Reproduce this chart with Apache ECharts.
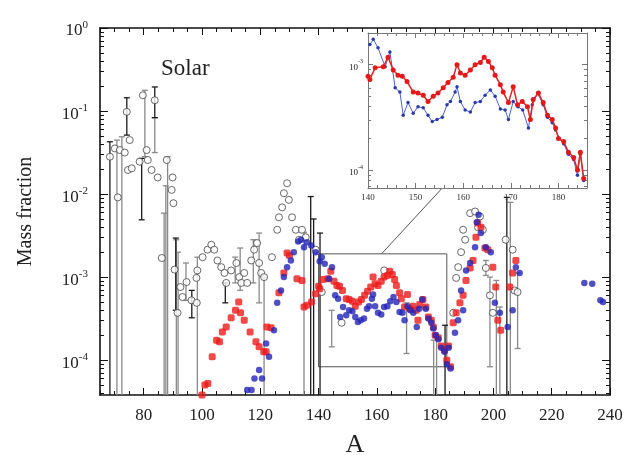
<!DOCTYPE html>
<html>
<head>
<meta charset="utf-8">
<script src="https://cdn.jsdelivr.net/npm/echarts@6/dist/echarts.min.js"></script>
<style>
  html, body { margin: 0; padding: 0; background: #fff; }
  #chart { width: 627px; height: 455px; }
</style>
</head>
<body>
<div id="chart"></div>
<script>
// 所有数值为 [A, log10(质量分数)]
const solarPts = [
  [68.4, -1.55], [70.1, -1.45], [71.1, -2.04], [71.8, -1.47], [73.5, -1.50], [74.2, -1.01],
  [74.6, -1.71], [75.2, -1.35], [75.9, -1.69], [78.6, -1.61], [79.7, -0.81], [81.0, -1.47],
  [81.4, -1.59], [82.7, -1.71], [83.8, -0.87], [84.8, -1.80], [86.2, -2.77], [87.9, -1.59],
  [89.6, -1.95], [89.9, -1.80], [90.2, -2.11], [90.6, -2.91], [91.6, -3.43], [92.6, -3.12],
  [93.3, -3.24], [94.7, -3.06], [96.4, -3.28], [98.1, -3.01], [98.4, -2.92], [98.2, -3.31],
  [100.2, -2.76], [101.9, -2.67], [103.2, -2.61], [104.2, -2.67], [105.3, -2.80], [106.6, -2.88],
  [107.7, -2.95], [108.3, -3.07], [110.0, -2.92], [111.8, -2.83], [112.8, -3.00], [113.5, -3.07],
  [114.5, -2.95], [115.5, -3.07], [116.9, -2.80], [117.9, -2.67], [118.9, -2.59], [119.6, -2.83],
  [120.3, -2.95], [121.3, -3.00], [124.0, -2.76], [125.8, -2.43], [126.4, -2.28], [127.5, -2.16],
  [128.1, -1.99], [129.2, -1.87], [129.8, -2.07], [130.9, -2.28], [132.2, -2.43], [133.3, -2.55],
  [134.3, -2.43], [135.6, -2.52], [139.0, -2.67], [141.1, -3.18], [147.9, -3.55], [162.5, -2.92],
  [186.2, -3.43], [187.2, -3.01], [187.9, -2.88], [188.9, -2.70], [189.6, -2.43], [190.3, -2.55],
  [192.0, -2.23], [193.7, -2.21], [194.7, -2.40], [195.4, -2.27], [196.4, -2.43], [197.4, -2.89],
  [198.8, -3.22], [199.8, -3.43], [204.2, -2.55], [206.6, -2.67], [207.2, -3.16], [208.3, -3.18]
]

// 误差棒 [A, 下限, 上限]；-5 表示延伸到坐标轴以下
const errBlack = [
  [68.4, -5, -1.37], [74.2, -1.29, -0.84], [79.3, -2.31, -1.57], [83.8, -1.08, -0.71],
  [91.0, -3.40, -2.53], [96.5, -3.49, -3.16], [108.0, -3.31, -3.07], [137.3, -5, -2.03],
  [138.3, -5, -2.30], [140.5, -5, -2.47], [183.4, -5, -3.58], [204.6, -5, -2.04]
]
const errGrey = [
  [70.8, -5, -1.35], [72.5, -5, -1.31], [80.4, -1.55, -0.75], [83.8, -1.50, -1.08],
  [87.0, -5, -2.23], [87.6, -5, -1.90], [88.2, -5, -1.55], [91.2, -5, -2.55], [91.8, -5, -2.70],
  [94.5, -3.28, -2.83], [98.4, -5, -2.76], [111.4, -3.07, -2.76], [113.1, -3.16, -2.65],
  [117.6, -3.07, -2.55], [119.6, -3.31, -2.47], [121.3, -5, -3.00], [135.0, -5, -2.46],
  [144.5, -3.84, -3.40], [170.2, -3.92, -3.31], [179.5, -5, -3.76], [180.5, -5, -3.76],
  [197.4, -2.98, -2.80], [198.8, -4.08, -3.00], [201.0, -5, -3.04], [202.2, -5, -3.36],
  [205.8, -5, -2.10], [208.3, -3.86, -2.95]
]

const redPts = [
  [100.0, -4.42], [101.0, -4.30], [102.0, -4.28], [103.5, -3.96], [105.0, -3.76], [106.0, -3.78],
  [107.0, -3.66], [108.3, -3.60], [110.0, -3.49], [111.5, -3.40], [112.6, -3.30], [113.2, -3.43],
  [114.5, -3.52], [116.5, -3.66], [118.5, -3.78], [119.6, -3.84], [121.2, -3.90], [122.0, -3.90],
  [122.3, -3.60], [123.7, -3.61], [126.4, -3.19], [128.1, -2.95], [129.2, -2.71], [130.0, -2.74],
  [132.6, -3.02], [134.3, -3.04], [135.0, -3.36], [136.0, -3.34], [137.6, -3.30], [139.0, -3.20],
  [140.0, -3.11], [140.4, -3.14], [141.5, -3.03], [143.2, -3.02], [144.2, -2.93], [145.3, -3.05],
  [146.3, -3.10], [147.2, -3.11], [148.2, -3.16], [149.5, -3.26], [150.5, -3.27], [151.6, -3.29],
  [152.6, -3.35], [153.7, -3.30], [154.7, -3.27], [155.8, -3.22], [156.8, -3.17], [157.9, -3.12],
  [158.7, -3.00], [159.4, -3.08], [160.4, -3.10], [161.5, -3.05], [162.5, -3.00], [163.6, -2.98],
  [164.4, -2.93], [165.3, -2.97], [166.1, -3.03], [166.7, -3.10], [167.8, -3.19], [168.4, -3.26],
  [169.5, -3.36], [170.5, -3.21], [171.4, -3.38], [172.4, -3.35], [173.5, -3.40], [174.1, -3.52],
  [174.7, -3.33], [175.8, -3.27], [176.8, -3.36], [177.7, -3.48], [178.7, -3.52], [179.4, -3.60],
  [180.0, -3.70], [181.1, -3.73], [182.1, -3.83], [183.2, -3.88], [184.0, -4.00], [184.6, -3.83],
  [185.3, -4.08], [186.2, -3.55], [187.2, -3.43], [188.5, -3.31], [189.6, -3.22], [190.6, -3.04],
  [192.0, -2.89], [193.0, -2.80], [194.0, -2.52], [194.6, -2.35], [195.7, -2.40], [197.1, -2.65],
  [198.1, -2.67], [199.8, -2.88], [200.8, -3.12], [201.5, -3.52], [202.5, -3.64], [205.6, -3.12],
  [206.6, -2.95], [207.7, -2.80]
]

const bluePts = [
  [115.5, -4.36], [117.0, -4.36], [118.0, -4.22], [119.6, -4.12], [120.6, -4.22], [122.0, -3.80],
  [123.0, -3.96], [124.7, -3.64], [125.8, -3.31], [127.1, -3.16], [128.1, -3.00], [129.2, -2.88],
  [130.5, -2.80], [131.5, -2.70], [133.0, -2.57], [134.0, -2.55], [135.0, -2.64], [136.0, -2.58],
  [137.5, -2.62], [139.0, -2.70], [140.4, -2.81], [141.1, -2.76], [142.1, -2.84], [143.6, -3.02],
  [144.6, -2.88], [145.7, -3.22], [146.7, -3.26], [147.4, -3.48], [148.4, -3.36], [149.5, -3.46],
  [150.5, -3.40], [151.6, -3.41], [152.6, -3.48], [153.5, -3.54], [154.5, -3.52], [155.6, -3.50],
  [156.6, -3.38], [157.3, -3.35], [158.3, -3.26], [158.7, -3.21], [159.4, -3.35], [160.4, -3.43],
  [161.5, -3.45], [162.5, -3.36], [163.6, -3.35], [164.6, -3.29], [165.7, -3.24], [166.7, -3.30],
  [167.8, -3.42], [168.8, -3.43], [169.5, -3.52], [170.5, -3.35], [171.5, -3.40], [172.5, -3.43],
  [173.7, -3.60], [174.5, -3.38], [175.6, -3.27], [176.8, -3.38], [177.7, -3.50], [178.7, -3.55],
  [179.4, -3.62], [180.2, -3.70], [181.1, -3.75], [182.1, -3.85], [183.2, -3.90], [184.0, -4.05],
  [184.6, -3.85], [185.3, -4.10], [186.8, -3.67], [187.9, -3.52], [188.9, -3.16], [189.6, -3.40],
  [190.6, -2.92], [192.0, -2.83], [193.7, -2.64], [194.3, -2.34], [194.9, -2.25], [195.7, -2.47],
  [197.4, -2.64], [199.1, -2.70], [200.5, -3.31], [202.2, -3.43], [204.9, -3.60], [206.6, -3.40],
  [207.7, -2.88], [209.0, -2.95], [231.2, -3.07], [233.9, -3.08], [236.7, -3.28], [237.6, -3.30]
]

const mainXRange = [65, 240]
const mainYRange = [-4.42, 0]
const mainXLabels = [80, 100, 120, 140, 160, 180, 200, 220, 240]
const mainYLabels = [-4, -3, -2, -1, 0]
const insetXRange = [140, 186]
const insetYRange = [-4.17, -2.70]
const insetXLabels = [140, 150, 160, 170, 180]
const insetYLabels = [-4, -3]
const zoomBox = [[140, -2.72], [184, -4.08]]

const SERIF = '"Liberation Serif", "DejaVu Serif", serif'

function range(a, b, s) {
  const out = []
  for (let v = a; v <= b + 1e-9; v += s) out.push(v)
  return out
}

// 对数轴的次刻度：2..9 × 10^n
function logMinor(lo, hi) {
  const out = []
  for (let n = Math.floor(lo); n <= Math.ceil(hi); n++) {
    for (let k = 2; k <= 9; k++) {
      const v = n + Math.log10(k)
      if (v > lo && v < hi) out.push(+v.toFixed(4))
    }
  }
  return out
}

function powRich(size) {
  return {
    b: { fontFamily: SERIF, fontSize: size, color: '#222', padding: [6, 0, 0, 0] },
    s: { fontFamily: SERIF, fontSize: Math.round(size * 0.62), color: '#222', padding: [0, 0, 6, 0] }
  }
}
const powFmt = v => '{b|10}{s|' + Math.round(v) + '}'

// 一侧坐标轴：主刻度 + 次刻度两根轴叠在一起
function axisPair(gridIndex, position, ext, majors, minors, lenMaj, lenMin, color, width, z, label) {
  const base = {
    type: 'value', gridIndex, position, min: ext[0], max: ext[1], z,
    splitLine: { show: false }
  }
  const major = Object.assign({}, base, {
    axisLine: { show: true, onZero: false, lineStyle: { color, width } },
    axisTick: { show: true, inside: true, length: lenMaj, customValues: majors, lineStyle: { color, width: 1 } },
    axisLabel: label ? Object.assign({ customValues: label.values }, label.style) : { show: false }
  }, label && label.extra ? label.extra : {})
  const minor = Object.assign({}, base, {
    axisLine: { show: false, onZero: false },
    axisTick: { show: true, inside: true, length: lenMin, customValues: minors, lineStyle: { color, width: 1 } },
    axisLabel: { show: false }
  })
  return [major, minor]
}

const mainXMinor = range(65, 240, 5)
const mainYMinor = logMinor(mainYRange[0], mainYRange[1])
const insetXMinor = range(140, 186, 2)
const insetYMinor = logMinor(insetYRange[0], insetYRange[1])

const xAxes = [].concat(
  axisPair(0, 'bottom', mainXRange, mainXLabels, mainXMinor, 7, 4, '#111', 1.6, 0, {
    values: mainXLabels,
    style: { fontFamily: SERIF, fontSize: 17, color: '#222', margin: 12 },
    extra: { name: 'A', nameLocation: 'middle', nameGap: 37,
             nameTextStyle: { fontFamily: SERIF, fontSize: 26, color: '#222' } }
  }),
  axisPair(0, 'top', mainXRange, mainXLabels, mainXMinor, 7, 4, '#111', 1.6, 0),
  axisPair(1, 'bottom', insetXRange, insetXLabels, insetXMinor, 5, 3, '#777', 1, 10, {
    values: insetXLabels,
    style: { fontFamily: SERIF, fontSize: 9, color: '#333', margin: 5 }
  }),
  axisPair(1, 'top', insetXRange, insetXLabels, insetXMinor, 5, 3, '#777', 1, 10)
)

const yAxes = [].concat(
  axisPair(0, 'left', mainYRange, mainYLabels, mainYMinor, 8, 4, '#111', 1.6, 0, {
    values: mainYLabels,
    style: { formatter: powFmt, rich: powRich(17), margin: 12 },
    extra: { name: 'Mass fraction', nameLocation: 'middle', nameGap: 64,
             nameTextStyle: { fontFamily: SERIF, fontSize: 20, color: '#222' } }
  }),
  axisPair(0, 'right', mainYRange, mainYLabels, mainYMinor, 8, 4, '#111', 1.6, 0),
  axisPair(1, 'left', insetYRange, insetYLabels, insetYMinor, 5, 3, '#777', 1, 10, {
    values: insetYLabels,
    style: { formatter: powFmt, rich: powRich(9), margin: 5 }
  }),
  axisPair(1, 'right', insetYRange, insetYLabels, insetYMinor, 5, 3, '#777', 1, 10)
)

// 误差棒：竖线 + 端帽，超出坐标范围的部分由 clip 截掉
function errorBarItem(color) {
  return function (params, api) {
    const x = api.value(0)
    const lo = api.value(1)
    const hi = api.value(2)
    const pTop = api.coord([x, hi])
    const pBot = api.coord([x, lo])
    const style = { stroke: color, lineWidth: 1.3 }
    const children = [
      { type: 'line', shape: { x1: pTop[0], y1: pTop[1], x2: pBot[0], y2: pBot[1] }, style },
      { type: 'line', shape: { x1: pTop[0] - 3, y1: pTop[1], x2: pTop[0] + 3, y2: pTop[1] }, style }
    ]
    if (lo > mainYRange[0]) {
      children.push({ type: 'line', shape: { x1: pBot[0] - 3, y1: pBot[1], x2: pBot[0] + 3, y2: pBot[1] }, style })
    }
    return { type: 'group', children }
  }
}

const inInset = p => p[0] >= insetXRange[0] && p[0] <= insetXRange[1]

const option = {
  animation: false,
  backgroundColor: '#fff',
  title: {
    text: 'Solar', left: 156, top: 52,
    textStyle: { fontFamily: SERIF, fontSize: 23, fontWeight: 'normal', color: '#222' }
  },
  grid: [
    { left: 100, top: 28, right: 17, bottom: 60, outerBoundsMode: 'none' },
    { left: 368, top: 33, width: 219, height: 155, show: true, backgroundColor: '#fff', borderWidth: 0, z: 5, outerBoundsMode: 'none' }
  ],
  xAxis: xAxes,
  yAxis: yAxes,
  series: [
    {
      type: 'custom', name: 'errGrey', xAxisIndex: 0, yAxisIndex: 0, clip: true,
      renderItem: errorBarItem('#8a8a8a'), data: errGrey, z: 1
    },
    {
      type: 'custom', name: 'errBlack', xAxisIndex: 0, yAxisIndex: 0, clip: true,
      renderItem: errorBarItem('#1a1a1a'), data: errBlack, z: 1
    },
    {
      type: 'scatter', name: 'Solar', xAxisIndex: 0, yAxisIndex: 0,
      symbol: 'circle', symbolSize: 7, data: solarPts, z: 2,
      itemStyle: { color: '#fff', borderColor: '#444', borderWidth: 1 }
    },
    {
      type: 'scatter', name: 'red', xAxisIndex: 0, yAxisIndex: 0,
      symbol: 'roundRect', symbolSize: 7, data: redPts, z: 3,
      itemStyle: { color: '#ee1c1c' },
      markArea: {
        silent: true,
        itemStyle: { color: 'rgba(0,0,0,0)', borderColor: '#555', borderWidth: 1 },
        data: [[{ coord: zoomBox[0] }, { coord: zoomBox[1] }]]
      }
    },
    {
      type: 'scatter', name: 'blue', xAxisIndex: 0, yAxisIndex: 0,
      symbol: 'circle', symbolSize: 6.5, data: bluePts, z: 4,
      itemStyle: { color: '#2424b8' }
    },
    {
      type: 'line', name: 'blueInset', xAxisIndex: 4, yAxisIndex: 4, z: 11,
      data: bluePts.filter(inInset), clip: true,
      symbol: 'circle', symbolSize: 3.5, showSymbol: true,
      lineStyle: { color: '#4a62d8', width: 1 }, itemStyle: { color: '#2a3aa8' }
    },
    {
      type: 'line', name: 'redInset', xAxisIndex: 4, yAxisIndex: 4, z: 12,
      data: redPts.filter(inInset), clip: true,
      symbol: 'circle', symbolSize: 5, showSymbol: true,
      lineStyle: { color: '#e02424', width: 1.5 }, itemStyle: { color: '#e41a1a' }
    }
  ]
}

const chart = echarts.init(document.getElementById('chart'), null, { renderer: 'canvas' })
chart.setOption(option)

// 放大框到插图的连线
const p1 = chart.convertToPixel({ xAxisIndex: 0, yAxisIndex: 0 }, [161.6, zoomBox[0][1]])
const p2 = chart.convertToPixel({ xAxisIndex: 4, yAxisIndex: 4 }, [155.6, insetYRange[0]])
chart.setOption({
  graphic: [{
    type: 'line', z: 10, silent: true,
    shape: { x1: p1[0], y1: p1[1], x2: p2[0], y2: p2[1] },
    style: { stroke: '#555', lineWidth: 1 }
  }]
})
</script>
</body>
</html>
